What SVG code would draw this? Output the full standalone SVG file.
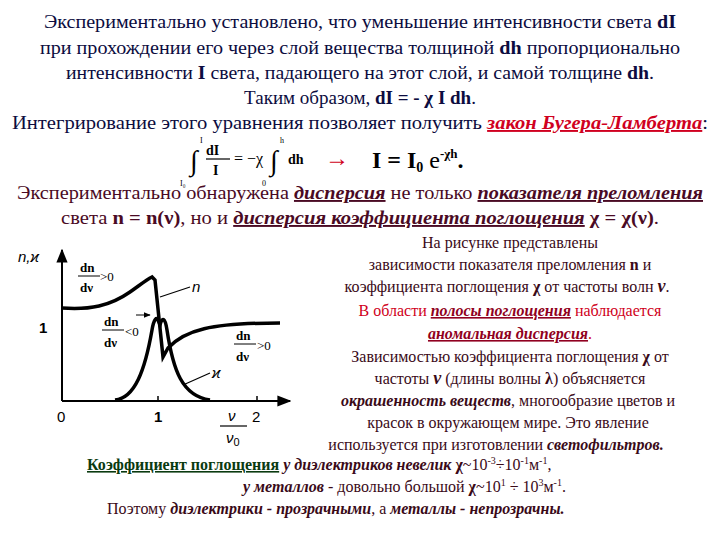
<svg xmlns="http://www.w3.org/2000/svg" width="720" height="540" viewBox="0 0 720 540">
<defs>
<style>
.t{font-size:19px;fill:#0c0c40;text-anchor:middle}
.m{font-size:19px;fill:#4a0a24;text-anchor:middle}
.r{font-size:16px;fill:#3a0a18;text-anchor:middle}
.red{fill:#d00020}
.u{font-style:italic;font-weight:bold;text-decoration:underline}
.b{font-weight:bold}
.bi{font-weight:bold;font-style:italic}
.g{font-size:15px;fill:#000}
.c{fill:none;stroke:#000;stroke-width:3.5}
</style>
<marker id="ar" viewBox="0 0 10 10" refX="9" refY="5" markerWidth="7" markerHeight="7" orient="auto"><path d="M0,1 L10,5 L0,9 Z" fill="#000"/></marker>
</defs>
<g id="top" font-family="Liberation Serif">
<text class="t" x="360" y="28" textLength="632" lengthAdjust="spacingAndGlyphs">Экспериментально установлено, что уменьшение интенсивности света <tspan class="b">dI</tspan></text>
<text class="t" x="360" y="54" textLength="640" lengthAdjust="spacingAndGlyphs">при прохождении его через слой вещества толщиной <tspan class="b">dh</tspan> пропорционально</text>
<text class="t" x="360" y="79" textLength="588" lengthAdjust="spacingAndGlyphs">интенсивности <tspan class="b">I</tspan> света, падающего на этот слой, и самой толщине <tspan class="b">dh</tspan>.</text>
<text class="t" x="360" y="104">Таким образом, <tspan class="b">dI = - χ I dh</tspan>.</text>
<text class="t" x="360" y="129" textLength="696" lengthAdjust="spacingAndGlyphs">Интегрирование этого уравнения позволяет получить <tspan class="u red">закон Бугера-Ламберта</tspan>:</text>
</g>
<g id="formula" fill="#000" font-family="Liberation Serif">
<text x="190" y="170" font-size="28">∫</text>
<text x="200" y="143" font-size="8">I</text>
<text x="180" y="186" font-size="8">I₀</text>
<text x="206" y="155" font-size="14" class="b">dI</text>
<line x1="206" y1="159" x2="230" y2="159" stroke="#000" stroke-width="1.2"/>
<text x="213" y="175" font-size="14" class="b">I</text>
<text x="234" y="164" font-size="16">= −χ</text>
<text x="270" y="170" font-size="28">∫</text>
<text x="280" y="143" font-size="8">h</text>
<text x="262" y="186" font-size="8">0</text>
<text x="288" y="164" font-size="14" class="b">dh</text>
<text x="325" y="166" font-size="24" fill="#d00020">→</text>
<text x="372" y="168" font-size="24" class="b">I = I<tspan font-size="14" dy="4">0</tspan><tspan dy="-4" font-weight="normal"> e</tspan><tspan font-size="13" dy="-10">-χh</tspan><tspan dy="10">.</tspan></text>
</g>
<g id="disp" font-family="Liberation Serif">
<text class="m" x="360" y="199" textLength="686" lengthAdjust="spacingAndGlyphs">Экспериментально обнаружена <tspan class="u">дисперсия</tspan> не только <tspan class="u">показателя преломления</tspan></text>
<text class="m" x="360" y="224" textLength="598" lengthAdjust="spacingAndGlyphs">света <tspan class="b">n = n(ν)</tspan>, но и <tspan class="u">дисперсия коэффициента поглощения</tspan> <tspan class="b">χ = χ(ν)</tspan>.</text>
</g>
<g id="graph" font-family="Liberation Sans">
<line x1="62" y1="401" x2="62" y2="250" stroke="#000" stroke-width="2" marker-end="url(#ar)"/>
<line x1="62" y1="401" x2="290" y2="401" stroke="#000" stroke-width="2" marker-end="url(#ar)"/>
<line x1="158" y1="396" x2="158" y2="401" stroke="#000" stroke-width="1.5"/>
<line x1="257" y1="396" x2="257" y2="401" stroke="#000" stroke-width="1.5"/>
<path class="c" d="M62,308 C90,310 110,306 130,292 C140,285 146,280 152,277 L155,280 L163,357 L168,348 C185,330 210,323 280,323"/>
<path class="c" d="M115,400 C135,398 145,370 152,330 C154,318 157,317 158,320 L160,325 C162,317 165,317 167,330 C173,370 182,396 210,400"/>
<line x1="160" y1="297" x2="190" y2="287" stroke="#000" stroke-width="1.2"/>
<line x1="183" y1="385" x2="210" y2="373" stroke="#000" stroke-width="1.2"/>
<line x1="136" y1="315" x2="150" y2="315" stroke="#000" stroke-width="1" marker-end="url(#ar)"/>
<text class="g" x="18" y="262" font-style="italic" font-size="17">n,ϰ</text>
<text class="g" x="192" y="292" font-style="italic" font-size="18">n</text>
<text class="g" x="212" y="378" font-style="italic" font-size="17">ϰ</text>
<text class="g" x="39" y="333" font-weight="bold">1</text>
<text class="g" x="57" y="422" font-size="18">0</text>
<text class="g" x="154" y="422" font-weight="bold">1</text>
<text class="g" x="252" y="422" font-size="18">2</text>
<text class="g" x="228" y="421" font-style="italic">ν</text>
<line x1="220" y1="426" x2="247" y2="426" stroke="#000" stroke-width="1.2"/>
<text class="g" x="226" y="443" font-style="italic">ν<tspan font-size="11" font-style="normal" dy="3">0</tspan></text>
<g font-size="13" fill="#000" font-family="Liberation Serif">
<text x="80" y="272" font-weight="bold">dn</text><line x1="78" y1="276" x2="100" y2="276" stroke="#000"/><text x="80" y="292" font-weight="bold">dν</text><text x="100" y="281">&gt;0</text>
<text x="104" y="326" font-weight="bold">dn</text><line x1="102" y1="330" x2="124" y2="330" stroke="#000"/><text x="104" y="347" font-weight="bold">dν</text><text x="125" y="336">&lt;0</text>
<text x="236" y="340" font-weight="bold">dn</text><line x1="234" y1="344" x2="256" y2="344" stroke="#000"/><text x="236" y="361" font-weight="bold">dν</text><text x="257" y="350">&gt;0</text>
</g>
</g>
<g id="right" font-family="Liberation Serif">
<text class="r" x="510" y="248">На рисунке представлены</text>
<text class="r" x="510" y="270">зависимости показателя преломления <tspan class="b">n</tspan> и</text>
<text class="r" x="507" y="292">коэффициента поглощения <tspan class="b">χ</tspan> от частоты волн <tspan class="bi" font-size="18">ν</tspan>.</text>
<text class="r red" x="510" y="316" font-size="19">В области <tspan class="u" fill="#900020">полосы поглощения</tspan> наблюдается</text>
<text class="r" x="510" y="339" font-size="19"><tspan class="u" fill="#900020">аномальная дисперсия</tspan><tspan fill="#d00020">.</tspan></text>
<text class="r" x="510" y="362">Зависимостью коэффициента поглощения <tspan class="b">χ</tspan> от</text>
<text class="r" x="510" y="384">частоты <tspan class="bi" font-size="18">ν</tspan> (длины волны <tspan class="b">λ</tspan>) объясняется</text>
<text class="r" x="508" y="406"><tspan class="bi">окрашенность веществ</tspan>, многообразие цветов и</text>
<text class="r" x="508" y="428">красок в окружающем мире. Это явление</text>
<text class="r" x="496" y="450">используется при изготовлении <tspan class="bi">светофильтров.</tspan></text>
</g>
<g id="bottom" font-size="16" fill="#3a0a18" font-family="Liberation Serif">
<text x="87" y="470"><tspan class="b" fill="#0a3a10" text-decoration="underline">Коэффициент поглощения</tspan>  <tspan class="bi">у диэлектриков невелик</tspan>  <tspan class="b">χ</tspan>~10<tspan font-size="10" dy="-6">-3</tspan><tspan dy="6">÷10</tspan><tspan font-size="10" dy="-6">-1</tspan><tspan dy="6">м</tspan><tspan font-size="10" dy="-6">-1</tspan><tspan dy="6">,</tspan></text>
<text x="243" y="492"><tspan class="bi">у металлов</tspan> - довольно большой   <tspan class="b">χ</tspan>~10<tspan font-size="10" dy="-6">1</tspan><tspan dy="6"> ÷ 10</tspan><tspan font-size="10" dy="-6">3</tspan><tspan dy="6">м</tspan><tspan font-size="10" dy="-6">-1</tspan><tspan dy="6">.</tspan></text>
<text x="107" y="514">Поэтому <tspan class="bi">диэлектрики - прозрачными</tspan>, а <tspan class="bi">металлы - непрозрачны.</tspan></text>
</g>
</svg>
